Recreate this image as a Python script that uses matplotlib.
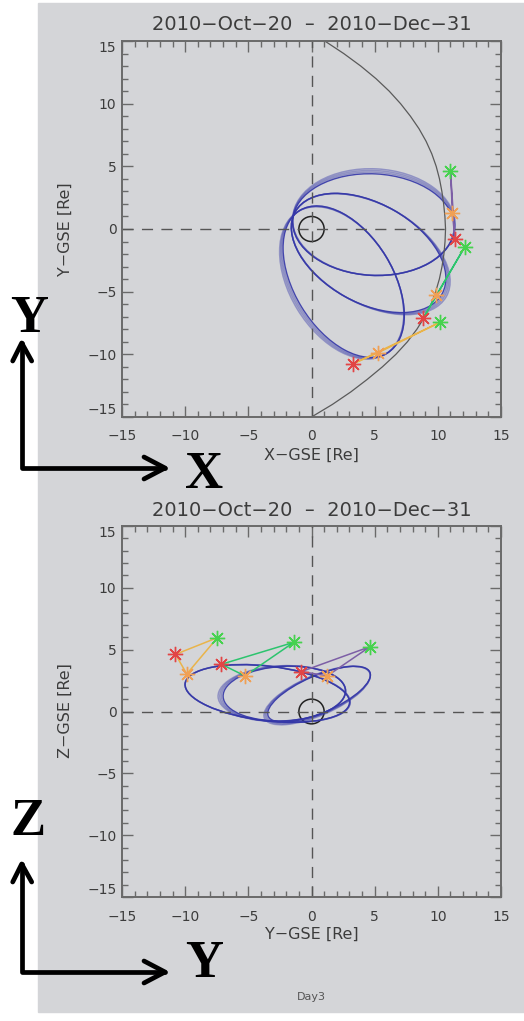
import matplotlib
matplotlib.use("Agg")
import matplotlib.pyplot as plt
from matplotlib.patches import Ellipse, Circle, Rectangle
from matplotlib.lines import Line2D

# spacecraft positions, GSE [Re]; one entry per group (purple, green, yellow links)
red_x = [11.35, 8.84, 3.25]
red_y = [-0.80, -7.13, -10.77]
red_z = [3.23, 3.82, 4.62]
orange_x = [11.16, 9.89, 5.28]
orange_y = [1.25, -5.27, -9.87]
orange_z = [2.88, 2.88, 3.04]
green_x = [11.00, 12.14, 10.16]
green_y = [4.63, -1.41, -7.45]
green_z = [5.24, 5.59, 5.97]
link_colors = ["#7d5fa6", "#2cc46e", "#e9b44a"]

# magnetopause trace in the X-Y plane
mp_x = [1.05, 2.55, 3.9, 5.1, 6.15, 7.05, 7.83, 8.51, 9.07, 9.52, 9.87, 10.13, 10.32, 10.46, 10.56, 10.61,
        10.57, 10.48, 10.33, 10.12, 9.83, 9.46, 8.96, 8.34, 7.59, 6.68, 5.61, 4.41, 3.11, 1.65, 0.0]
mp_y = [15, 14, 13, 12, 11, 10, 9, 8, 7, 6, 5, 4, 3, 2, 1, 0,
        -1, -2, -3, -4, -5, -6, -7, -8, -9, -10, -11, -12, -13, -14, -15]

# orbit ellipses (center, semi axes, tilt in deg), X-Y projection
xy_cx = [4.9, 4.52, 2.55]
xy_cy = [0.35, -1.91, -4.2]
xy_a = [6.4, 6.67, 6.66]
xy_b = [4.05, 3.95, 3.9]
xy_ang = [-3, -29.6, -58.8]

# orbit ellipses, Y-Z projection
yz_cx = [-3.5, -2.15, 0.6]
yz_cy = [1.46, 1.45, 1.4]
yz_a = [6.55, 4.85, 4.4]
yz_b = [2.2, 2.2, 1.5]
yz_ang = [-7, 3, 24]

title = "2010\u2212Oct\u221220  \u2013  2010\u2212Dec\u221231"
ticks = [-15, -10, -5, 0, 5, 10, 15]

W, H = 524, 1021
BG = "#d4d5d8"
FRAME = "#6a6a6a"
TXT = "#3c3c3c"
ORB = "#3437a8"

plt.rcParams["font.family"] = ["DejaVu Sans"]

fig = plt.figure(figsize=(W / 100, H / 100), dpi=100)
fig.patches.append(Rectangle((38 / W, 1 - 1012 / H), 1 - 38 / W, (1012 - 3) / H,
                             transform=fig.transFigure, color=BG, zorder=-10))


def fx(px):
    return px / W


def fy(py):
    return 1 - py / H


def make_axes(top, bottom):
    ax = fig.add_axes([fx(122), fy(bottom), fx(501) - fx(122), fy(top) - fy(bottom)])
    ax.set_facecolor(BG)
    ax.set_xlim(-15, 15)
    ax.set_ylim(-15, 15)
    ax.set_xticks(ticks)
    ax.set_yticks(ticks)
    ax.set_xticks(range(-15, 16), minor=True)
    ax.set_yticks(range(-15, 16), minor=True)
    ax.set_xticklabels([str(t).replace("-", "\u2212") for t in ticks])
    ylabs = ax.set_yticklabels([str(t).replace("-", "\u2212") for t in ticks])
    ylabs[0].set_va("bottom")
    ylabs[-1].set_va("top")
    ax.tick_params(which="both", direction="in", top=True, right=True, color=FRAME,
                   labelcolor=TXT, labelsize=10, width=1)
    ax.tick_params(which="major", length=8)
    ax.tick_params(which="minor", length=4)
    ax.tick_params(axis="x", which="major", pad=9)
    ax.tick_params(axis="y", which="major", pad=4)
    for s in ax.spines.values():
        s.set_color(FRAME)
        s.set_linewidth(1.4)
    ax.axhline(0, color="#555555", lw=1, dashes=(8, 6))
    ax.axvline(0, color="#555555", lw=1, dashes=(8, 6))
    ax.add_patch(Circle((0, 0), 1.0, fill=False, ec="#222222", lw=1.1))
    return ax


def draw_orbits(ax, cx, cy, a, b, ang, bands):
    # bands: per orbit, the shift (dx, dy, da, db) of the outermost repeat pass
    for i in range(len(cx)):
        ax.add_patch(Ellipse((cx[i], cy[i]), 2 * a[i], 2 * b[i], angle=ang[i],
                             fill=False, ec=ORB, lw=1.0, alpha=0.9))
        dx, dy, da, db = bands[i]
        for f in (0.33, 0.66, 1.0):
            ax.add_patch(Ellipse((cx[i] + f * dx, cy[i] + f * dy), 2 * (a[i] + f * da), 2 * (b[i] + f * db),
                                 angle=ang[i], fill=False, ec=ORB, lw=1.1, alpha=0.42))


def draw_sc(ax, px, py):
    for i in range(len(link_colors)):
        rx, ox, gx = px[0][i], px[1][i], px[2][i]
        ry, oy, gy = py[0][i], py[1][i], py[2][i]
        ax.plot([rx, gx, ox, rx], [ry, gy, oy, ry], color=link_colors[i], lw=1.1, zorder=4)
        ax.plot(rx, ry, marker=(8, 2, 0), ms=11, color="#e24545", mew=1.0, zorder=5)
        ax.plot(ox, oy, marker=(8, 2, 0), ms=11, color="#f0a055", mew=1.0, zorder=5)
        ax.plot(gx, gy, marker=(8, 2, 0), ms=11, color="#46d24e", mew=1.0, zorder=5)


# X-Y panel
ax1 = make_axes(41, 417)
ax1.plot(mp_x, mp_y, color="#5a5a5a", lw=0.9)
draw_orbits(ax1, xy_cx, xy_cy, xy_a, xy_b, xy_ang,
            [(0.04, 0.2, 0.04, 0.2),
             (0.17, -0.1, 0.2, 0.0),
             (-0.16, -0.1, 0.0, 0.19)])
draw_sc(ax1, [red_x, orange_x, green_x], [red_y, orange_y, green_y])

# Y-Z panel
ax2 = make_axes(526, 897)
draw_orbits(ax2, yz_cx, yz_cy, yz_a, yz_b, yz_ang,
            [(0.03, 0.0, 0.03, 0.02),
             (-0.2, 0.0, 0.2, 0.05),
             (-0.16, -0.11, 0.15, 0.11)])
draw_sc(ax2, [red_y, orange_y, green_y], [red_z, orange_z, green_z])

xc = fx(311.7)
fig.text(xc, fy(25), title, ha="center", va="center", fontsize=14, color=TXT)
fig.text(xc, fy(511), title, ha="center", va="center", fontsize=14, color=TXT)
fig.text(xc, fy(455), "X\u2212GSE [Re]", ha="center", va="center", fontsize=11.5, color=TXT)
fig.text(xc, fy(934), "Y\u2212GSE [Re]", ha="center", va="center", fontsize=11.5, color=TXT)
fig.text(fx(65), fy(229), "Y\u2212GSE [Re]", ha="center", va="center", fontsize=11.5, color=TXT, rotation=90)
fig.text(fx(65), fy(711), "Z\u2212GSE [Re]", ha="center", va="center", fontsize=11.5, color=TXT, rotation=90)
fig.text(xc, fy(997), "Day3", ha="center", va="center", fontsize=8, color="#555555")

# direction keys on the left
big = dict(ha="center", va="center", fontsize=38, fontweight="bold",
           family="Liberation Serif", color="black")
fig.text(fx(29), fy(319), "Y", **big)
fig.text(fx(204), fy(475), "X", **big)
fig.text(fx(28), fy(822), "Z", **big)
fig.text(fx(204), fy(964), "Y", **big)


def arrow_key(x0, y0, ytip, xtip):
    kw = dict(transform=fig.transFigure, color="black", lw=3.4, solid_capstyle="round",
              solid_joinstyle="round")
    fig.add_artist(Line2D([fx(x0), fx(x0), fx(xtip)], [fy(ytip), fy(y0), fy(y0)], **kw))
    fig.add_artist(Line2D([fx(x0 - 9), fx(x0), fx(x0 + 10)], [fy(ytip + 18), fy(ytip), fy(ytip + 18)], **kw))
    fig.add_artist(Line2D([fx(xtip - 21), fx(xtip), fx(xtip - 21)], [fy(y0 - 11), fy(y0), fy(y0 + 11)], **kw))


arrow_key(21.7, 468, 343, 165)
arrow_key(21.7, 972, 864, 165)

fig.savefig("out.png", dpi=100)
